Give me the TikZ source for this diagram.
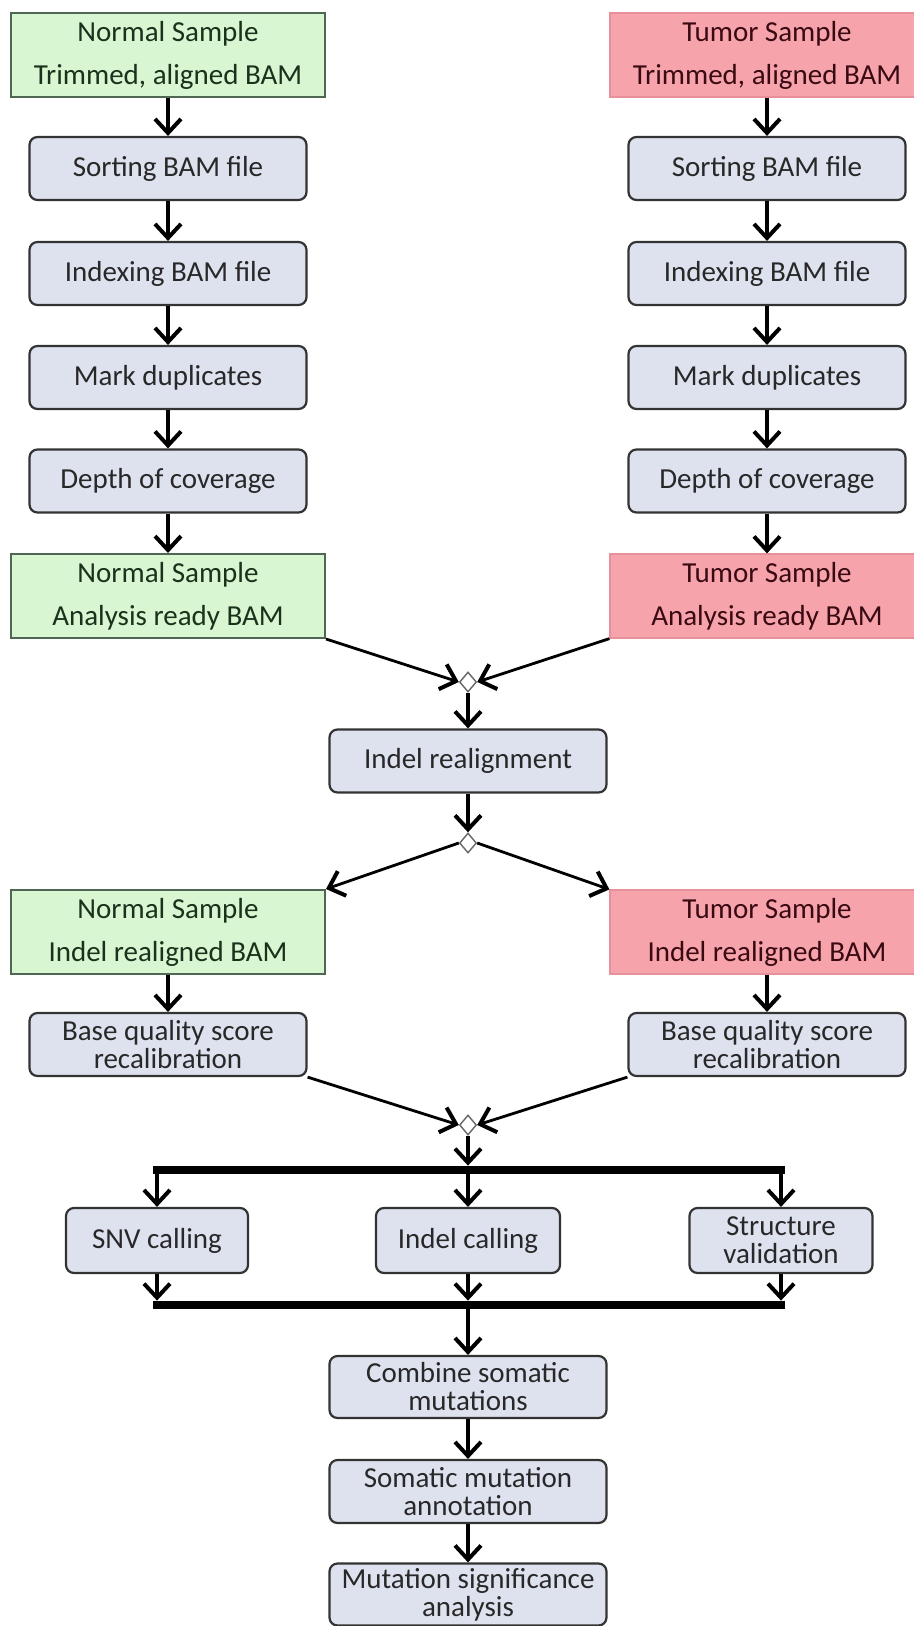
\documentclass[tikz,border=0pt]{standalone}
\usepackage{fontspec}
\setmainfont{Carlito}
\usetikzlibrary{arrows.meta,shapes.geometric}
\definecolor{gfill}{HTML}{D8F6D2}
\definecolor{gdraw}{HTML}{4F6653}
\definecolor{gtext}{HTML}{1A321C}
\definecolor{pfill}{HTML}{F6A3AC}
\definecolor{pdraw}{HTML}{E8909A}
\definecolor{ptext}{HTML}{3A0A12}
\definecolor{bfill}{HTML}{DEE2EF}
\definecolor{bdraw}{HTML}{333333}
\definecolor{btext}{HTML}{282828}
\begin{document}
\begin{tikzpicture}[x=0.5pt,y=-0.5pt,
  proc/.style={draw=bdraw, fill=bfill, rounded corners=4pt, line width=1.1pt,
    minimum width=138.5pt, minimum height=31.5pt, align=center, text=btext,
    inner sep=0pt, font=\fontsize{14.5}{14}\selectfont},
  normal/.style={draw=gdraw, fill=gfill, line width=1pt,
    minimum width=157pt, minimum height=42pt, align=center, text=gtext,
    inner sep=0pt, font=\fontsize{14.5}{21.5}\selectfont},
  tumor/.style={draw=pdraw, fill=pfill, line width=0.6pt,
    minimum width=157pt, minimum height=42pt, align=center, text=ptext,
    inner sep=0pt, font=\fontsize{14.5}{21.5}\selectfont},
  dia/.style={diamond, draw=black!60, fill=white, line width=0.7pt,
    minimum width=8.5pt, minimum height=10pt, inner sep=0pt},
  bar/.style={fill=black, minimum width=316pt, minimum height=4pt, inner sep=0pt},
  arr/.style={line width=1.7pt, -{Straight Barb[length=7pt,width=13pt,line width=2pt]}},
  con/.style={line width=1.4pt, -{Straight Barb[length=7pt,width=13pt,line width=2pt]}}
]
\useasboundingbox (0,0) rectangle (914,1626);
\fill[white] (0,0) rectangle (914,1626);

% left column
\node[normal] (ntrim) at (168,55) {Normal Sample\\Trimmed, aligned BAM};
\node[proc] (nsort) at (168,168.5) {Sorting BAM file};
\node[proc] (nindex) at (168,273.5) {Indexing BAM file};
\node[proc] (nmark) at (168,377.5) {Mark duplicates};
\node[proc] (ndepth) at (168,481) {Depth of coverage};
\node[normal] (nready) at (168,596) {Normal Sample\\Analysis ready BAM};

% right column
\node[tumor] (ttrim) at (767,55) {Tumor Sample\\Trimmed, aligned BAM};
\node[proc] (tsort) at (767,168.5) {Sorting BAM file};
\node[proc] (tindex) at (767,273.5) {Indexing BAM file};
\node[proc] (tmark) at (767,377.5) {Mark duplicates};
\node[proc] (tdepth) at (767,481) {Depth of coverage};
\node[tumor] (tready) at (767,596) {Tumor Sample\\Analysis ready BAM};

\node[dia] (d1) at (468,682) {};
\node[proc] (realign) at (468,761) {Indel realignment};
\node[dia] (d2) at (468,843) {};

\node[normal] (nindel) at (168,932) {Normal Sample\\Indel realigned BAM};
\node[proc] (nbq) at (168,1044.5) {Base quality score\\recalibration};
\node[tumor] (tindel) at (767,932) {Tumor Sample\\Indel realigned BAM};
\node[proc] (tbq) at (767,1044.5) {Base quality score\\recalibration};

\node[dia] (d3) at (468,1125) {};
\node[bar] (bar1) at (469,1170) {};
\node[proc, minimum width=91pt, minimum height=32.5pt] (snv) at (157,1240.5) {SNV calling};
\node[proc, minimum width=92pt, minimum height=32.5pt] (icall) at (468,1240.5) {Indel calling};
\node[proc, minimum width=91.5pt, minimum height=32.5pt] (sv) at (781,1240.5) {Structure\\validation};
\node[bar] (bar2) at (469,1305) {};

\node[proc, minimum height=31pt] (combine) at (468,1387) {Combine somatic\\mutations};
\node[proc, minimum height=31.5pt] (annot) at (468,1491.5) {Somatic mutation\\annotation};
\node[proc, minimum height=31pt] (signif) at (468,1594.5) {Mutation significance\\analysis};

% connectors
\draw[arr] (ntrim.south -| nsort.north) -- (nsort.north);
\draw[arr] (nsort) -- (nindex);
\draw[arr] (nindex) -- (nmark);
\draw[arr] (nmark) -- (ndepth);
\draw[arr] (ndepth) -- (nready);
\draw[arr] (ttrim.south -| tsort.north) -- (tsort.north);
\draw[arr] (tsort) -- (tindex);
\draw[arr] (tindex) -- (tmark);
\draw[arr] (tmark) -- (tdepth);
\draw[arr] (tdepth) -- (tready);

\draw[con] (nready.south east) -- (d1.west);
\draw[con] (tready.south west) -- (d1.east);
\draw[arr] (d1.south) -- (realign.north);
\draw[arr] (realign.south) -- (d2.north);
\draw[con] (d2.west) -- (nindel.north east);
\draw[con] (d2.east) -- (tindel.north west);
\draw[arr] (nindel) -- (nbq);
\draw[arr] (tindel) -- (tbq);
\draw[con] (nbq.south east) -- (d3.west);
\draw[con] (tbq.south west) -- (d3.east);
\draw[arr] (d3.south) -- (d3.south |- bar1.north);
\draw[arr] (snv.north |- bar1.south) -- (snv.north);
\draw[arr] (icall.north |- bar1.south) -- (icall.north);
\draw[arr] (sv.north |- bar1.south) -- (sv.north);
\draw[arr] (snv.south) -- (snv.south |- bar2.north);
\draw[arr] (icall.south) -- (icall.south |- bar2.north);
\draw[arr] (sv.south) -- (sv.south |- bar2.north);
\draw[arr] (combine.north |- bar2.south) -- (combine.north);
\draw[arr] (combine) -- (annot);
\draw[arr] (annot) -- (signif);
\end{tikzpicture}
\end{document}
